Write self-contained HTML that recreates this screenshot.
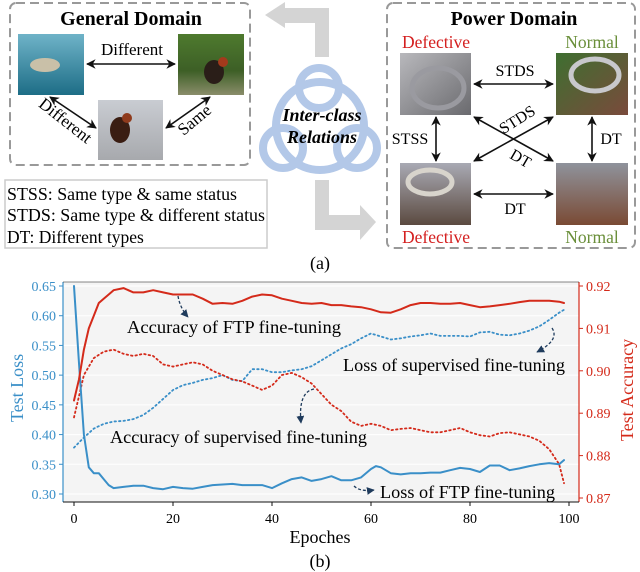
<!DOCTYPE html>
<html><head><meta charset="utf-8"><style>
body{margin:0;background:#fff;}
svg{display:block;font-family:"Liberation Serif",serif;}
</style></head><body>
<svg id="fig" width="640" height="572" viewBox="0 0 640 572" xmlns="http://www.w3.org/2000/svg">
<defs>
<marker id="ah" viewBox="0 0 10 10" refX="9" refY="5" markerWidth="6" markerHeight="6" orient="auto-start-reverse"><path d="M0,0 L10,5 L0,10 L3,5 z" fill="#111"/></marker>
<marker id="ahn" viewBox="0 0 10 10" refX="9" refY="5" markerWidth="6" markerHeight="6" orient="auto"><path d="M0,0 L10,5 L0,10 z" fill="#1f3b5c"/></marker>
<linearGradient id="gShark" x1="0" y1="0" x2="0" y2="1"><stop offset="0" stop-color="#6fb3c8"/><stop offset="1" stop-color="#1d6d86"/></linearGradient>
<linearGradient id="gGrass" x1="0" y1="0" x2="0" y2="1"><stop offset="0" stop-color="#4e7a2e"/><stop offset="0.6" stop-color="#3d5f26"/><stop offset="1" stop-color="#8a8d6a"/></linearGradient>
<linearGradient id="gFence" x1="0" y1="0" x2="0" y2="1"><stop offset="0" stop-color="#c9ccd2"/><stop offset="1" stop-color="#a7a9ad"/></linearGradient>
<linearGradient id="gP1" x1="0" y1="0" x2="1" y2="1"><stop offset="0" stop-color="#b8b8bc"/><stop offset="1" stop-color="#6a6a6e"/></linearGradient>
<linearGradient id="gP2" x1="0" y1="0" x2="1" y2="1"><stop offset="0" stop-color="#3e6f30"/><stop offset="1" stop-color="#7a4a3c"/></linearGradient>
<linearGradient id="gP3" x1="0" y1="0" x2="0" y2="1"><stop offset="0" stop-color="#a9aab4"/><stop offset="1" stop-color="#5b4a40"/></linearGradient>
<linearGradient id="gP4" x1="0" y1="0" x2="0" y2="1"><stop offset="0" stop-color="#8f939c"/><stop offset="1" stop-color="#7a4a34"/></linearGradient>
</defs>

<g>
<rect x="10" y="3" width="240" height="162" rx="6" fill="none" stroke="#999" stroke-width="2" stroke-dasharray="9,5"/>
<text x="131" y="25" text-anchor="middle" font-size="20" font-weight="bold">General Domain</text>
<rect x="18" y="34" width="66" height="61" fill="url(#gShark)"/>
<ellipse cx="45" cy="65" rx="15" ry="7" fill="#c9c0a8"/>
<rect x="178" y="34" width="66" height="61" fill="url(#gGrass)"/>
<ellipse cx="214" cy="72" rx="10" ry="12" fill="#2a1e18"/><circle cx="223" cy="62" r="5" fill="#a33a1c"/>
<rect x="98" y="100" width="65" height="60" fill="url(#gFence)"/>
<ellipse cx="120" cy="130" rx="10" ry="13" fill="#3a1d12"/><circle cx="127" cy="118" r="5" fill="#8f3a1c"/>
<line x1="87" y1="64" x2="175" y2="64" stroke="#111" stroke-width="1.6" marker-start="url(#ah)" marker-end="url(#ah)"/>
<text x="132" y="55" text-anchor="middle" font-size="17">Different</text>
<line x1="50" y1="97" x2="96" y2="128" stroke="#111" stroke-width="1.6" marker-start="url(#ah)" marker-end="url(#ah)"/>
<text x="62" y="125" text-anchor="middle" font-size="17" transform="rotate(38 62 125)">Different</text>
<line x1="210" y1="97" x2="166" y2="128" stroke="#111" stroke-width="1.6" marker-start="url(#ah)" marker-end="url(#ah)"/>
<text x="198" y="124" text-anchor="middle" font-size="17" transform="rotate(-40 198 124)">Same</text>
</g>

<g>
<rect x="5" y="180" width="262" height="68" fill="#fff" stroke="#ccc" stroke-width="1.5"/>
<text x="7" y="200" font-size="17.5" textLength="230" lengthAdjust="spacingAndGlyphs">STSS: Same type &amp; same status</text>
<text x="7" y="221" font-size="17.5" textLength="258" lengthAdjust="spacingAndGlyphs">STDS: Same type &amp; different status</text>
<text x="7" y="243" font-size="17.5">DT: Different types</text>
</g>

<path d="M315,57 L315,23 L285,23 L285,28 L265,15 L285,2 L285,8 L329,8 L329,57 Z" fill="#d4d4d4"/>
<path d="M315,180 L329,180 L329,215 L360,215 L360,205 L376,222 L360,240 L360,230 L315,230 Z" fill="#d4d4d4"/>

<g fill="none" stroke="#b3c8e8" stroke-width="8">
<circle cx="320" cy="126" r="44"/>
<circle cx="319" cy="88" r="20"/>
<circle cx="283" cy="148" r="20"/>
<circle cx="357" cy="148" r="20"/>
</g>
<text x="322" y="121" text-anchor="middle" font-size="18" font-weight="bold" font-style="italic">Inter-class</text>
<text x="322" y="143" text-anchor="middle" font-size="18" font-weight="bold" font-style="italic">Relations</text>

<g>
<rect x="387" y="3" width="248" height="245" rx="6" fill="none" stroke="#999" stroke-width="2" stroke-dasharray="9,5"/>
<text x="514" y="25" text-anchor="middle" font-size="20" font-weight="bold">Power Domain</text>
<text x="436" y="48" text-anchor="middle" font-size="17.5" fill="#d42020">Defective</text>
<text x="592" y="48" text-anchor="middle" font-size="17.5" fill="#6a8f3a">Normal</text>
<text x="436" y="243" text-anchor="middle" font-size="17.5" fill="#d42020">Defective</text>
<text x="592" y="243" text-anchor="middle" font-size="17.5" fill="#6a8f3a">Normal</text>
<rect x="400" y="53" width="71" height="62" fill="url(#gP1)"/>
<ellipse cx="438" cy="88" rx="26" ry="20" fill="none" stroke="#9a9aa0" stroke-width="5"/>
<rect x="556" y="53" width="72" height="62" fill="url(#gP2)"/>
<ellipse cx="595" cy="75" rx="24" ry="16" fill="none" stroke="#c8c8cc" stroke-width="5"/>
<rect x="400" y="163" width="71" height="62" fill="url(#gP3)"/>
<ellipse cx="430" cy="182" rx="22" ry="12" fill="none" stroke="#d8d4cc" stroke-width="5"/>
<rect x="556" y="163" width="72" height="62" fill="url(#gP4)"/>
<line x1="474" y1="84" x2="553" y2="84" stroke="#111" stroke-width="1.6" marker-start="url(#ah)" marker-end="url(#ah)"/>
<text x="515" y="76" text-anchor="middle" font-size="16">STDS</text>
<line x1="474" y1="194" x2="553" y2="194" stroke="#111" stroke-width="1.6" marker-start="url(#ah)" marker-end="url(#ah)"/>
<text x="515" y="214" text-anchor="middle" font-size="16">DT</text>
<line x1="436" y1="117" x2="436" y2="161" stroke="#111" stroke-width="1.6" marker-start="url(#ah)" marker-end="url(#ah)"/>
<text x="410" y="144" text-anchor="middle" font-size="16">STSS</text>
<line x1="592" y1="117" x2="592" y2="161" stroke="#111" stroke-width="1.6" marker-start="url(#ah)" marker-end="url(#ah)"/>
<text x="611" y="144" text-anchor="middle" font-size="16">DT</text>
<line x1="474" y1="117" x2="553" y2="161" stroke="#111" stroke-width="1.6" marker-start="url(#ah)" marker-end="url(#ah)"/>
<line x1="474" y1="161" x2="553" y2="117" stroke="#111" stroke-width="1.6" marker-start="url(#ah)" marker-end="url(#ah)"/>
<text x="520" y="124" text-anchor="middle" font-size="16" transform="rotate(-32 520 124)">STDS</text>
<text x="518" y="163" text-anchor="middle" font-size="16" transform="rotate(30 518 163)">DT</text>
</g>
<text x="320" y="269" text-anchor="middle" font-size="18">(a)</text>

<g id="chart"></g>
<text x="320" y="567" text-anchor="middle" font-size="18">(b)</text>
</svg>
<script>
const epochsLossFtp = [0,1,2,3,4,5,6,7,8,10,12,14,16,18,20,22,24,26,28,30,32,34,36,38,40,42,44,46,48,50,52,54,56,58,60,61,62,64,66,68,70,72,74,76,78,80,82,84,86,88,90,92,94,96,98,99];
const lossFtp = [0.65,0.52,0.40,0.345,0.335,0.335,0.325,0.315,0.31,0.312,0.314,0.314,0.31,0.308,0.312,0.31,0.309,0.312,0.315,0.316,0.317,0.315,0.315,0.315,0.31,0.318,0.325,0.328,0.322,0.325,0.33,0.323,0.323,0.328,0.342,0.347,0.345,0.335,0.333,0.335,0.335,0.336,0.336,0.34,0.344,0.342,0.337,0.348,0.348,0.34,0.343,0.347,0.35,0.352,0.35,0.357];
const epochsLossSup = [0,2,4,6,8,10,12,14,16,18,20,22,24,26,28,30,32,34,36,38,40,42,44,46,48,50,52,54,56,58,60,62,64,66,68,70,72,74,76,78,80,82,84,86,88,90,92,94,96,98,99];
const lossSup = [0.378,0.395,0.41,0.418,0.422,0.423,0.426,0.433,0.445,0.46,0.475,0.483,0.487,0.492,0.495,0.5,0.492,0.49,0.51,0.51,0.505,0.505,0.508,0.51,0.515,0.525,0.535,0.545,0.552,0.562,0.57,0.565,0.56,0.562,0.565,0.567,0.57,0.566,0.566,0.566,0.565,0.572,0.573,0.568,0.567,0.57,0.575,0.582,0.593,0.605,0.61];
const epochsAccFtp = [0,1,2,3,4,5,6,7,8,10,12,14,16,18,20,22,24,26,28,30,32,34,36,38,40,42,44,46,48,50,52,54,56,58,60,62,64,66,68,70,72,74,76,78,80,82,84,86,88,90,92,94,96,98,99];
const accFtp = [0.893,0.898,0.905,0.91,0.913,0.916,0.917,0.918,0.919,0.9195,0.9185,0.9185,0.919,0.9185,0.918,0.918,0.918,0.917,0.9158,0.916,0.9158,0.9165,0.9175,0.918,0.9178,0.917,0.9165,0.916,0.9158,0.916,0.9155,0.9155,0.9152,0.915,0.9145,0.9138,0.9137,0.9145,0.9155,0.916,0.916,0.9158,0.9158,0.916,0.9155,0.915,0.9152,0.9155,0.9158,0.9162,0.9165,0.9165,0.9165,0.9163,0.916];
const epochsAccSup = [0,1,2,4,6,8,10,12,14,16,18,20,22,24,26,28,30,32,34,36,38,40,42,44,46,48,50,52,54,56,58,60,62,64,66,68,70,72,74,76,78,80,82,84,86,88,90,92,94,96,98,99];
const accSup = [0.889,0.894,0.899,0.903,0.9045,0.905,0.904,0.9035,0.904,0.9035,0.9015,0.901,0.9015,0.902,0.9015,0.9,0.899,0.898,0.8975,0.8965,0.8955,0.8965,0.899,0.8995,0.8985,0.897,0.8945,0.892,0.8905,0.888,0.887,0.8875,0.887,0.886,0.8863,0.8865,0.886,0.8855,0.8855,0.886,0.8865,0.8855,0.8848,0.8845,0.8853,0.8855,0.885,0.8845,0.8835,0.8815,0.878,0.8735];
const xTicks = [0,20,40,60,80,100];
const lossTicks = [0.30,0.35,0.40,0.45,0.50,0.55,0.60,0.65];
const accTicks = [0.87,0.88,0.89,0.90,0.91,0.92];

const NS='http://www.w3.org/2000/svg';
const g=document.getElementById('chart');
const X=v=>74+(v-0)*(569-74)/100;
const YL=v=>494-(v-0.30)*(494-286)/0.35;
const YR=v=>498-(v-0.87)*(498-286)/0.05;
function mk(tag,attrs,parent){const e=document.createElementNS(NS,tag);for(const k in attrs)e.setAttribute(k,attrs[k]);(parent||g).appendChild(e);return e;}

const bg=mk('rect',{x:63,y:282,width:516,height:220,fill:'#f4f4f4'});


lossTicks.forEach(t=>{
  const gl=mk('line',{x1:63,x2:579,y1:YL(t),y2:YL(t),stroke:'#fff','stroke-width':1});
  
  
  const tk=mk('line',{x1:59,x2:63,y1:YL(t),y2:YL(t),stroke:'#3a8fc8'});
  
  
  const tl=mk('text',{x:56,y:YL(t)+5,'text-anchor':'end','font-size':14,fill:'#3a8fc8'});
  tl.textContent=t.toFixed(2);
  
  
});
accTicks.forEach(t=>{
  const tk=mk('line',{x1:579,x2:583,y1:YR(t),y2:YR(t),stroke:'#d42a1a'});
  
  
  const tl=mk('text',{x:586,y:YR(t)+5,'font-size':14,fill:'#d42a1a'});
  tl.textContent=t.toFixed(2);
  
  
});
xTicks.forEach(t=>{
  const tk=mk('line',{x1:X(t),x2:X(t),y1:502,y2:506,stroke:'#111'});
  
  
  const tl=mk('text',{x:X(t),y:523,'text-anchor':'middle','font-size':14});
  tl.textContent=t;
  
  
});
const ax1=mk('line',{x1:63,x2:63,y1:282,y2:502,stroke:'#3a8fc8','stroke-width':1.2});


const ax2=mk('line',{x1:579,x2:579,y1:282,y2:502,stroke:'#d42a1a','stroke-width':1.2});


const ax3=mk('line',{x1:63,x2:579,y1:502,y2:502,stroke:'#111','stroke-width':1});


const ax4=mk('line',{x1:63,x2:579,y1:282,y2:282,stroke:'#111','stroke-width':0.6});



function series(xs,ys,Y,color,dotted,name){
  const d=xs.map((x,i)=>(i?'L':'M')+X(x).toFixed(1)+','+Y(ys[i]).toFixed(1)).join(' ');
  const p=mk('path',{d:d,fill:'none',stroke:color,'stroke-width':dotted?1.8:2,'stroke-dasharray':dotted?'1.5,3':'none','stroke-linecap':'round','stroke-linejoin':'round'});
  
  
}
series(epochsLossSup,lossSup,YL,'#3a8fc8',true,'loss-supervised-line');
series(epochsAccSup,accSup,YR,'#d42a1a',true,'accuracy-supervised-line');
series(epochsLossFtp,lossFtp,YL,'#3a8fc8',false,'loss-ftp-line');
series(epochsAccFtp,accFtp,YR,'#d42a1a',false,'accuracy-ftp-line');

function label(x,y,txt,w,name){const t=mk('text',{x:x,y:y,'font-size':18,textLength:w,lengthAdjust:'spacingAndGlyphs'});t.textContent=txt;
  
  }
label(127,333,'Accuracy of  FTP fine-tuning',214,'annotation-accuracy-ftp');
label(343,371,'Loss of supervised fine-tuning',222,'annotation-loss-supervised');
label(110,443,'Accuracy of supervised fine-tuning',257,'annotation-accuracy-supervised');
label(380,498,'Loss of FTP fine-tuning',175,'annotation-loss-ftp');
function arr(d,name){const p=mk('path',{d:d,fill:'none',stroke:'#1f3b5c','stroke-width':1.3,'stroke-dasharray':'3,2','marker-end':'url(#ahn)'});
  
  }
arr('M178,296 Q180,308 188,317','pointer-accuracy-ftp');
arr('M552,328 Q560,340 537,352','pointer-loss-supervised');
arr('M314,389 Q298,392 301,423','pointer-accuracy-supervised');
arr('M354,486 Q360,492 374,490','pointer-loss-ftp');

const yl=mk('text',{x:0,y:0,'font-size':18,fill:'#3a8fc8','text-anchor':'middle',transform:'translate(23,388) rotate(-90)'});
yl.textContent='Test Loss';


const yr=mk('text',{x:0,y:0,'font-size':18,fill:'#d42a1a','text-anchor':'middle',transform:'translate(633,390) rotate(-90)'});
yr.textContent='Test Accuracy';


const xl=mk('text',{x:320,y:543,'font-size':18,'text-anchor':'middle'});
xl.textContent='Epoches';


</script>
</body></html>
